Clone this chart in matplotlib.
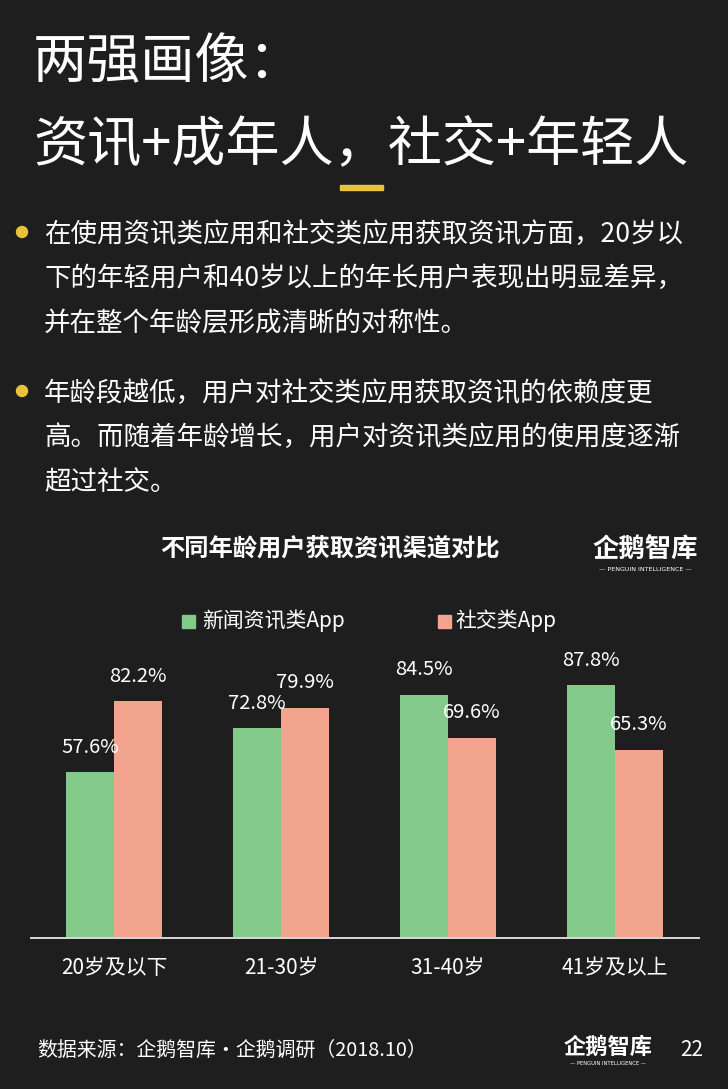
import matplotlib
matplotlib.use("Agg")
import matplotlib.pyplot as plt
from matplotlib.patches import Ellipse, Rectangle
import numpy as np

plt.rcParams['font.family'] = ['Noto Sans CJK SC', 'DejaVu Sans']

# ---- data ----
categories = ["20岁及以下", "21-30岁", "31-40岁", "41岁及以上"]
news_app = [57.6, 72.8, 84.5, 87.8]
social_app = [82.2, 79.9, 69.6, 65.3]
series_names = ["新闻资讯类App", "社交类App"]

title_lines = ["两强画像：", "资讯+成年人，社交+年轻人"]
bullet1 = ["在使用资讯类应用和社交类应用获取资讯方面，20岁以",
           "下的年轻用户和40岁以上的年长用户表现出明显差异，",
           "并在整个年龄层形成清晰的对称性。"]
bullet2 = ["年龄段越低，用户对社交类应用获取资讯的依赖度更",
           "高。而随着年龄增长，用户对资讯类应用的使用度逐渐",
           "超过社交。"]
chart_title = "不同年龄用户获取资讯渠道对比"
source = "数据来源：企鹅智库·企鹅调研（2018.10）"
page_no = "22"

BG = "#1e1e1e"
GREEN = "#82c98a"
SALMON = "#f2a48e"
YELLOW = "#e8c23c"
W, H = 728, 1089

fig = plt.figure(figsize=(W / 100, H / 100), dpi=100, facecolor=BG)

def fx(px):
    return px / W

def fy(py):
    return 1 - py / H

# ---- title ----
fig.text(fx(33), fy(63), title_lines[0], color="white", fontsize=39, va="center", ha="left")
fig.text(fx(33), fy(146), title_lines[1], color="white", fontsize=39, va="center", ha="left")
fig.patches.append(Rectangle((fx(340), fy(190)), fx(43), 5 / H, transform=fig.transFigure,
                             color=YELLOW, figure=fig))

# ---- bullets ----
def bullet(y0, lines):
    fig.patches.append(Ellipse((fx(22), fy(y0 - 2)), 11 / W, 11 / H,
                               transform=fig.transFigure, color=YELLOW, figure=fig))
    for i, ln in enumerate(lines):
        fig.text(fx(44), fy(y0 + i * 44.5), ln, color="white", fontsize=19.1,
                 va="center", ha="left")

bullet(234, bullet1)
bullet(393, bullet2)

# ---- chart title and logo ----
fig.text(fx(330), fy(548), chart_title, color="white", fontsize=17.5, fontweight="bold",
         va="center", ha="center")

def logo(xc, yc, size, subsize):
    fig.text(fx(xc), fy(yc), "企鹅智库", color="white", fontsize=size, fontweight="bold",
             va="center", ha="center")
    fig.text(fx(xc), fy(yc + size * 1.05), "— PENGUIN INTELLIGENCE —", color="white",
             fontsize=subsize, va="center", ha="center", family=["DejaVu Sans"])

logo(645, 550, 19, 4.6)
logo(608, 1047, 16, 3.8)

# ---- legend ----
fig.patches.append(Rectangle((fx(182), fy(628)), fx(13), 13 / H, transform=fig.transFigure,
                             color=GREEN, figure=fig))
fig.text(fx(202), fy(621), series_names[0], color="white", fontsize=15,
         va="center", ha="left")
fig.patches.append(Rectangle((fx(438), fy(628)), fx(13), 13 / H, transform=fig.transFigure,
                             color=SALMON, figure=fig))
fig.text(fx(455), fy(621), series_names[1], color="white", fontsize=15,
         va="center", ha="left")

# ---- bar chart ----
ax = fig.add_axes([fx(30.5), fy(938), fx(668), 288 / H])
ax.set_facecolor("none")
x = np.arange(len(categories))
bw = 0.285
b1 = ax.bar(x - bw / 2, news_app, bw, color=GREEN)
b2 = ax.bar(x + bw / 2, social_app, bw, color=SALMON)
ax.set_xlim(-0.5, 3.5)
ax.set_ylim(0, 100)
for bars, vals in ((b1, news_app), (b2, social_app)):
    for r, v in zip(bars, vals):
        ax.annotate(f"{v:.1f}%", (r.get_x() + r.get_width() / 2, v), xytext=(0, 18),
                    textcoords="offset points", ha="center", va="center",
                    color="white", fontsize=14.5)
for s in ("top", "left", "right"):
    ax.spines[s].set_visible(False)
ax.spines["bottom"].set_color("#d8d8d8")
ax.spines["bottom"].set_linewidth(1.4)
ax.set_yticks([])
ax.set_xticks(x)
ax.set_xticklabels(categories, color="white", fontsize=15)
ax.tick_params(axis="x", length=0, pad=14)

# ---- footer ----
fig.text(fx(37), fy(1050), source, color="white", fontsize=14.3,
         va="center", ha="left")
fig.text(fx(692), fy(1050), page_no, color="white", fontsize=15, va="center", ha="center")

fig.savefig("out.png", dpi=100, facecolor=BG)
